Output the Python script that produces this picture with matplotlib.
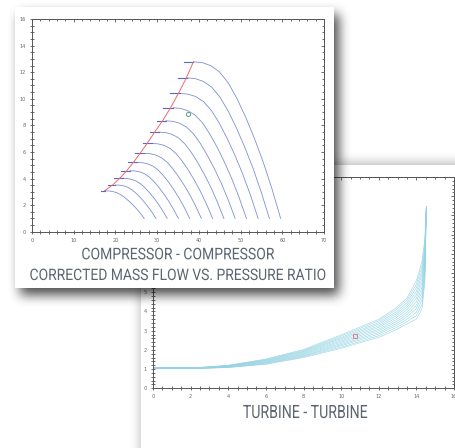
import numpy as np
import matplotlib
matplotlib.use('Agg')
import matplotlib.pyplot as plt
from matplotlib.ticker import MultipleLocator, NullFormatter, FuncFormatter
from matplotlib.patches import Rectangle
from matplotlib.patheffects import AbstractPathEffect
from matplotlib.transforms import Affine2D

# ---- compressor map: speed lines ----
comp_lines_x = [
    [17.4, 18.35, 19.3, 20.25, 21.2, 22.15, 23.1, 24.05, 25.0, 25.95, 26.9],
    [20.0, 20.97, 21.94, 22.91, 23.88, 24.85, 25.82, 26.79, 27.76, 28.73, 29.7],
    [21.8, 22.86, 23.92, 24.98, 26.04, 27.1, 28.16, 29.22, 30.28, 31.34, 32.4],
    [23.5, 24.66, 25.82, 26.98, 28.14, 29.3, 30.46, 31.62, 32.78, 33.94, 35.1],
    [25.2, 26.46, 27.72, 28.98, 30.24, 31.5, 32.76, 34.02, 35.28, 36.54, 37.8],
    [26.9, 28.27, 29.64, 31.01, 32.38, 33.75, 35.12, 36.49, 37.86, 39.23, 40.6],
    [28.7, 30.16, 31.62, 33.08, 34.54, 36.0, 37.46, 38.92, 40.38, 41.84, 43.3],
    [30.4, 31.96, 33.52, 35.08, 36.64, 38.2, 39.76, 41.32, 42.88, 44.44, 46.0],
    [32.1, 33.76, 35.42, 37.08, 38.74, 40.4, 42.06, 43.72, 45.38, 47.04, 48.7],
    [33.8, 35.56, 37.32, 39.08, 40.84, 42.6, 44.36, 46.12, 47.88, 49.64, 51.4],
    [35.5, 37.37, 39.24, 41.11, 42.98, 44.85, 46.72, 48.59, 50.46, 52.33, 54.2],
    [37.1, 39.08, 41.06, 43.04, 45.02, 47.0, 48.98, 50.96, 52.94, 54.92, 56.9],
    [38.7, 40.79, 42.88, 44.97, 47.06, 49.15, 51.24, 53.33, 55.42, 57.51, 59.6],
]
comp_lines_y = [
    [3.08, 3.07, 3.03, 2.94, 2.80, 2.59, 2.34, 2.06, 1.75, 1.40, 1.0],
    [3.51, 3.50, 3.45, 3.35, 3.17, 2.92, 2.62, 2.28, 1.90, 1.48, 1.0],
    [4.01, 4.00, 3.93, 3.81, 3.60, 3.30, 2.94, 2.54, 2.08, 1.57, 1.0],
    [4.59, 4.57, 4.50, 4.36, 4.11, 3.75, 3.32, 2.83, 2.29, 1.68, 1.0],
    [5.21, 5.19, 5.10, 4.94, 4.64, 4.22, 3.72, 3.15, 2.52, 1.80, 1.0],
    [5.89, 5.87, 5.77, 5.57, 5.23, 4.74, 4.15, 3.49, 2.76, 1.93, 1.0],
    [6.64, 6.61, 6.50, 6.27, 5.88, 5.31, 4.64, 3.88, 3.03, 2.07, 1.0],
    [7.49, 7.46, 7.33, 7.07, 6.61, 5.96, 5.19, 4.31, 3.34, 2.23, 1.0],
    [8.34, 8.30, 8.16, 7.86, 7.35, 6.62, 5.73, 4.74, 3.64, 2.39, 1.0],
    [9.32, 9.28, 9.11, 8.78, 8.20, 7.36, 6.37, 5.24, 4.00, 2.58, 1.0],
    [10.40, 10.35, 10.17, 9.79, 9.13, 8.19, 7.06, 5.79, 4.38, 2.79, 1.0],
    [11.57, 11.52, 11.31, 10.88, 10.14, 9.09, 7.82, 6.39, 4.81, 3.01, 1.0],
    [12.78, 12.72, 12.49, 12.01, 11.19, 10.01, 8.60, 7.01, 5.24, 3.24, 1.0],
]
# short dark marks at the left end of each speed line
dash_start = [16.6, 18.2, 19.6, 21.4, 23.1, 24.8, 26.5, 28.3, 29.9, 31.5, 33.2, 34.9, 36.5]
# surge line
surge_x = [17.4, 19.3, 21.0, 22.7, 24.3, 25.9, 27.6, 29.4, 31.3, 33.2, 35.1, 37.0, 38.7]
surge_y = [3.08, 3.51, 4.01, 4.59, 5.21, 5.89, 6.64, 7.49, 8.34, 9.32, 10.40, 11.57, 12.78]
comp_point = (37.4, 8.87)

# ---- turbine map ----
turb_x = [0, 2.4, 4, 6, 8, 10, 12, 12.9, 13.5, 14.0, 14.3, 14.45, 14.53]
turb_lines = [
    [1.03, 1.03, 1.08, 1.25, 1.60, 2.08, 2.66, 3.04, 3.35, 3.60, 4.15, 5.50, 9.45],
    [1.03, 1.03, 1.09, 1.27, 1.64, 2.14, 2.74, 3.14, 3.47, 3.78, 4.37, 5.71, 9.45],
    [1.04, 1.04, 1.10, 1.30, 1.68, 2.21, 2.83, 3.25, 3.60, 3.96, 4.60, 5.92, 9.45],
    [1.04, 1.04, 1.11, 1.32, 1.71, 2.27, 2.91, 3.35, 3.72, 4.15, 4.82, 6.13, 9.45],
    [1.05, 1.05, 1.12, 1.35, 1.75, 2.33, 3.00, 3.45, 3.84, 4.33, 5.04, 6.34, 9.45],
    [1.05, 1.05, 1.13, 1.37, 1.79, 2.40, 3.08, 3.55, 3.96, 4.51, 5.26, 6.55, 9.45],
    [1.06, 1.06, 1.15, 1.40, 1.83, 2.46, 3.17, 3.66, 4.09, 4.69, 5.49, 6.75, 9.45],
    [1.06, 1.06, 1.16, 1.42, 1.87, 2.53, 3.25, 3.76, 4.21, 4.87, 5.71, 6.96, 9.45],
    [1.07, 1.07, 1.17, 1.45, 1.91, 2.59, 3.34, 3.86, 4.33, 5.05, 5.93, 7.17, 9.45],
    [1.07, 1.07, 1.18, 1.47, 1.94, 2.65, 3.42, 3.96, 4.45, 5.24, 6.15, 7.38, 9.45],
    [1.08, 1.08, 1.19, 1.50, 1.98, 2.72, 3.51, 4.07, 4.58, 5.42, 6.38, 7.59, 9.45],
    [1.08, 1.08, 1.20, 1.52, 2.02, 2.78, 3.59, 4.17, 4.70, 5.60, 6.60, 7.80, 9.45],
]
turb_point = (10.73, 2.72)

W, H = 455, 448
fig = plt.figure(figsize=(W / 100, H / 100), dpi=100)
fig.patch.set_facecolor('white')

title_col = '#5c6670'


class Squeeze(AbstractPathEffect):
    """Draw text narrowed horizontally (condensed look) to a given pixel width."""

    def __init__(self, width_px):
        super().__init__()
        self.width_px = width_px

    def draw_path(self, renderer, gc, tpath, affine, rgbFace=None):
        ext = tpath.get_extents()
        disp_w = affine.transform_path(tpath).get_extents().width
        s = min(1.0, self.width_px / disp_w)
        cx = (ext.x0 + ext.x1) / 2
        a = Affine2D().translate(-cx, 0).scale(s, 1).translate(cx, 0) + affine
        renderer.draw_path(gc, tpath, a, rgbFace)


def title(xc, ybase, txt, width, size, z):
    fig.text(xc / W, 1 - ybase / H, txt, ha='center', va='baseline', fontsize=size,
             color=title_col, family=['Roboto', 'DejaVu Sans'], zorder=z,
             path_effects=[Squeeze(width)])


def box_blur(a, r, axis):
    k = 2 * r + 1
    pad = [(r, r) if i == axis else (0, 0) for i in range(2)]
    c = np.cumsum(np.pad(a, pad, mode='edge'), axis=axis)
    c = np.insert(c, 0, 0, axis=axis)
    n = c.shape[axis]
    return (np.take(c, range(k, n), axis=axis) - np.take(c, range(0, n - k), axis=axis)) / k


def card(x0, y0, x1, y1, dx, dy, r, alpha, z):
    # full-figure layer: blurred shadow + white card
    lay = fig.add_axes([0, 0, 1, 1], zorder=z)
    m = np.zeros((H, W))
    m[max(y0 + dy, 0):min(y1 + dy, H), max(x0 + dx, 0):min(x1 + dx, W)] = 1
    for _ in range(3):
        m = box_blur(m, r, 0)
        m = box_blur(m, r, 1)
    rgba = np.zeros((H, W, 4))
    rgba[..., 3] = m * alpha
    lay.imshow(rgba, extent=(0, W, H, 0), aspect='auto', interpolation='bilinear')
    lay.add_patch(Rectangle((x0, y0), x1 - x0, y1 - y0, facecolor='white', edgecolor='none'))
    lay.set_xlim(0, W)
    lay.set_ylim(H, 0)
    lay.axis('off')


def pix_axes(x0, y0, x1, y1, z):
    return fig.add_axes([x0 / W, 1 - y1 / H, (x1 - x0) / W, (y1 - y0) / H], zorder=z)


def style(ax, xmaj, xmin, ymaj, ymin):
    for s in ax.spines.values():
        s.set_color('#555555')
        s.set_linewidth(0.7)
    ax.xaxis.set_major_locator(MultipleLocator(xmaj))
    ax.xaxis.set_minor_locator(MultipleLocator(xmin))
    ax.yaxis.set_major_locator(MultipleLocator(ymaj))
    ax.yaxis.set_minor_locator(MultipleLocator(ymin))
    ax.tick_params(which='both', direction='inout', color='#555555', width=0.6,
                   labelsize=3.5, labelcolor='#666666', pad=2.5)
    ax.tick_params(which='major', length=3.5)
    ax.tick_params(which='minor', length=2.2)
    top = ax.secondary_xaxis('top')
    right = ax.secondary_yaxis('right')
    for sec, axis, loc in [(top, top.xaxis, (xmaj, xmin)), (right, right.yaxis, (ymaj, ymin))]:
        axis.set_major_locator(MultipleLocator(loc[0]))
        axis.set_minor_locator(MultipleLocator(loc[1]))
        axis.set_major_formatter(NullFormatter())
        sec.tick_params(which='both', direction='in', color='#555555', width=0.6)
        sec.tick_params(which='major', length=2.5)
        sec.tick_params(which='minor', length=1.6)
        for s in sec.spines.values():
            s.set_color('#555555')
            s.set_linewidth(0.7)


# ---------------- turbine card (behind) ----------------
card(141, 165, 480, 480, 0, -2, 5, 0.3, 0.1)
tax = pix_axes(153, 177, 454, 388.3, 0.2)
for ys in turb_lines:
    tax.plot(turb_x, ys, color='#94d3e4', lw=0.45, alpha=0.9)
tax.plot(*turb_point, marker='s', ms=3, mfc='none', mec='#e07080', mew=0.6)
tax.set_xlim(0, 16)
tax.set_ylim(0, 11)
style(tax, 2, 0.5, 1, 0.2)
# labels above 5 sit under the compressor card, so they are left out
tax.yaxis.set_major_formatter(FuncFormatter(lambda v, p: f'{v:g}' if v <= 5 else ''))
title(305, 418, 'TURBINE - TURBINE', 124, 13.2, 0.3)

# ---------------- compressor card (front) ----------------
card(15, 7, 334, 288, 5, 7, 5, 0.7, 0.4)
cax = pix_axes(32, 19, 324, 231.7, 0.5)
for xs, ys in zip(comp_lines_x, comp_lines_y):
    cax.plot(xs, ys, color='#7f90d2', lw=0.6)
for x0, xs, ys in zip(dash_start, comp_lines_x, comp_lines_y):
    cax.plot([x0, xs[0]], [ys[0], ys[0]], color='#5b6bb8', lw=0.8)
cax.plot(surge_x, surge_y, color='#f26a6a', lw=0.7)
cax.plot(*comp_point, marker='o', ms=3, mfc='none', mec='#3f9a72', mew=0.6)
cax.set_xlim(0, 70)
cax.set_ylim(0, 16)
style(cax, 10, 2, 2, 0.5)
title(177.5, 259.3, 'COMPRESSOR - COMPRESSOR', 192, 11.6, 0.6)
title(177.5, 280, 'CORRECTED MASS FLOW VS. PRESSURE RATIO', 295, 11.4, 0.6)

fig.savefig('out.png', dpi=100)
